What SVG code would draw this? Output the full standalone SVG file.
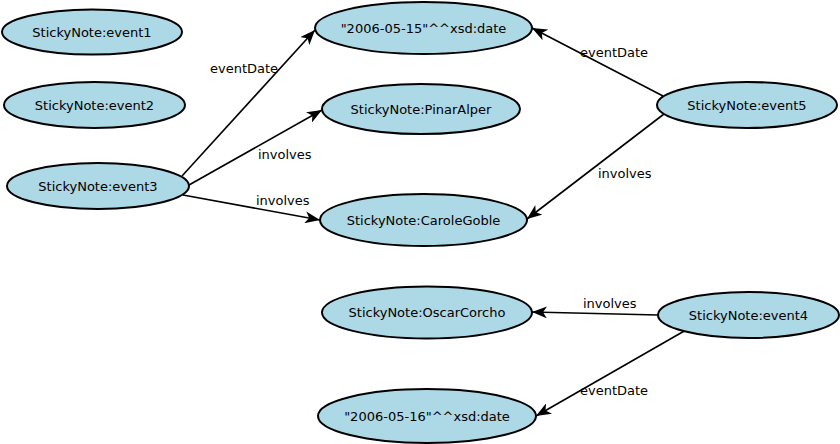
<svg xmlns="http://www.w3.org/2000/svg" width="840" height="444" viewBox="0 0 840 444">
<style>
.n ellipse{fill:#add8e6;stroke:#000;stroke-width:2}
.n text{font-family:"DejaVu Sans",sans-serif;font-size:13px;text-anchor:middle;fill:#000}
.e line{stroke:#000;stroke-width:1.6;marker-end:url(#ah)}
.e text{font-family:"DejaVu Sans",sans-serif;font-size:13px;fill:#000}
</style>
<defs>
<marker id="ah" markerUnits="userSpaceOnUse" markerWidth="16" markerHeight="12" refX="15" refY="6" orient="auto" viewBox="0 0 16 12">
<path d="M0,0 L15,6 L0,12 L4,6 z" fill="#000"/>
</marker>
</defs>
<rect width="840" height="444" fill="#fff"/>
<g id="connectors" class="e">
<line x1="182" y1="176" x2="315" y2="30"/>
<line x1="189" y1="185" x2="322" y2="110"/>
<line x1="183" y1="195" x2="320" y2="220"/>
<line x1="663" y1="96" x2="532" y2="28"/>
<line x1="664" y1="114" x2="527" y2="219"/>
<line x1="658" y1="315" x2="532" y2="312"/>
<line x1="686" y1="330" x2="536" y2="416"/>
<text x="210" y="73">eventDate</text>
<text x="258" y="159">involves</text>
<text x="256" y="205">involves</text>
<text x="580" y="57">eventDate</text>
<text x="598" y="178">involves</text>
<text x="583" y="308">involves</text>
<text x="580" y="395">eventDate</text>
</g>
<g id="event1" class="n"><ellipse cx="92" cy="32" rx="90" ry="22.5"/><text x="92" y="37">StickyNote:event1</text></g>
<g id="event2" class="n"><ellipse cx="94.5" cy="105" rx="90.5" ry="23"/><text x="94.5" y="110">StickyNote:event2</text></g>
<g id="event3" class="n"><ellipse cx="98" cy="186" rx="91" ry="23"/><text x="98" y="191">StickyNote:event3</text></g>
<g id="date15" class="n"><ellipse cx="423.5" cy="28" rx="108.5" ry="26"/><text x="423.5" y="33">"2006-05-15"^^xsd:date</text></g>
<g id="PinarAlper" class="n"><ellipse cx="421" cy="109" rx="99" ry="25"/><text x="421" y="114">StickyNote:PinarAlper</text></g>
<g id="CaroleGoble" class="n"><ellipse cx="423.5" cy="220" rx="103.5" ry="26"/><text x="423.5" y="225">StickyNote:CaroleGoble</text></g>
<g id="event5" class="n"><ellipse cx="747" cy="105" rx="90" ry="23"/><text x="747" y="110">StickyNote:event5</text></g>
<g id="OscarCorcho" class="n"><ellipse cx="427" cy="312.5" rx="105" ry="26"/><text x="427" y="317">StickyNote:OscarCorcho</text></g>
<g id="event4" class="n"><ellipse cx="748.5" cy="315" rx="90.5" ry="23"/><text x="748.5" y="320">StickyNote:event4</text></g>
<g id="date16" class="n"><ellipse cx="427" cy="416" rx="109" ry="27"/><text x="427" y="421">"2006-05-16"^^xsd:date</text></g>
</svg>
